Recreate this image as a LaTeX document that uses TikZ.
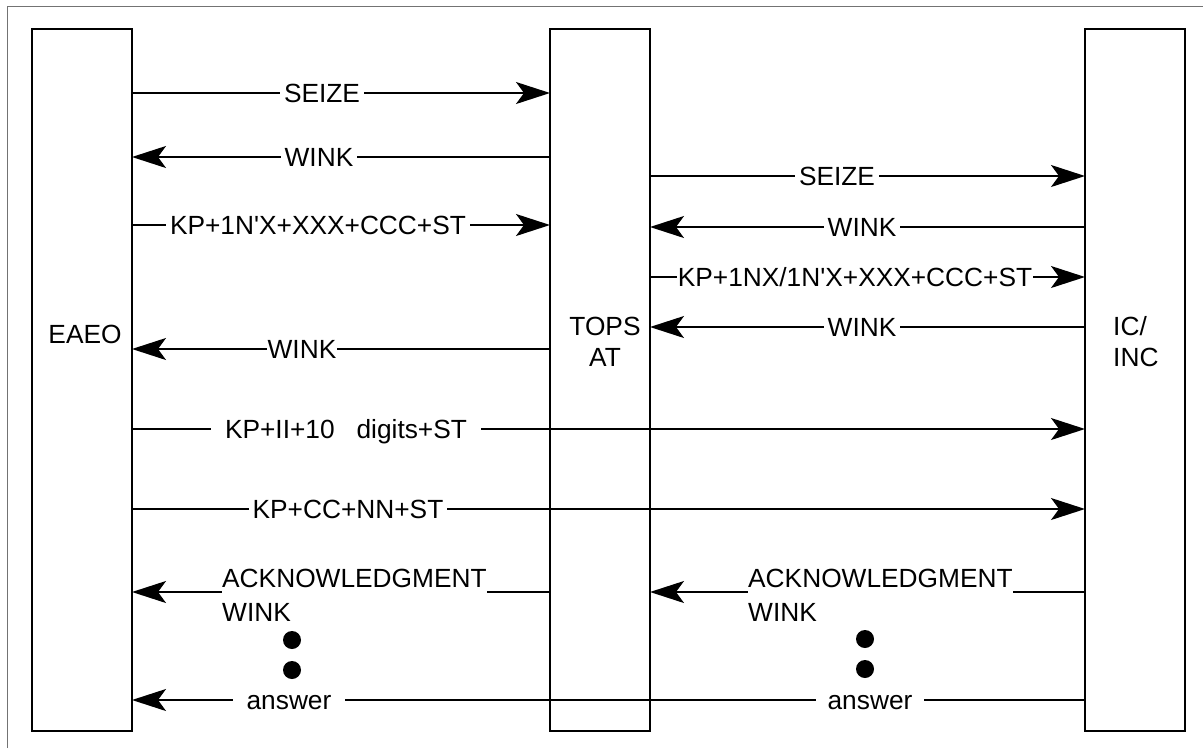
\documentclass[tikz,border=0pt]{standalone}
\usepackage{fontspec}
\setmainfont{Liberation Sans}
\usetikzlibrary{arrows.meta}

\begin{document}
\begin{tikzpicture}[x=1pt, y=-1pt,
  party/.style={draw, line width=2.4pt, minimum width=100pt, minimum height=702pt, outer sep=0pt},
  msg/.style={line width=1.7pt, -{Stealth[length=34pt, width=22pt, inset=8pt]}},
  lbl/.style={fill=white, anchor=base, inner xsep=4pt, inner ysep=2pt, font=\fontsize{26.3}{34}\selectfont},
  ack/.style={fill=white, anchor=north west, inner sep=0pt, align=left, font=\fontsize{26.3}{34}\selectfont},
  pname/.style={inner sep=0pt, font=\fontsize{26.3}{31}\selectfont},
  dot/.style={circle, fill, minimum size=18pt, inner sep=0pt}]
  \useasboundingbox (0,0) rectangle (1203,748);
  \draw[black!55, line width=1pt] (7,748) -- (7,6) -- (1203,6);

  % the three offices
  \node[party] (eaeo) at (82,380) {};
  \node[party] (tops) at (600,380) {};
  \node[party] (icinc) at (1135,380) {};
  \node[pname, anchor=base] (eaeoname) at (85,343) {EAEO};
  \node[pname, align=center] (topsname) at (605,342) {TOPS\\AT};
  \node[pname, align=left, anchor=west] (icincname) at (1113,342) {IC/\\INC};

  % signalling
  \draw[msg] (eaeo.east |- 0,93) -- (tops.west |- 0,93);
  \draw[msg] (tops.west |- 0,157) -- (eaeo.east |- 0,157);
  \draw[msg] (tops.east |- 0,176) -- (icinc.west |- 0,176);
  \draw[msg] (eaeo.east |- 0,225) -- (tops.west |- 0,225);
  \draw[msg] (icinc.west |- 0,227) -- (tops.east |- 0,227);
  \draw[msg] (tops.east |- 0,277) -- (icinc.west |- 0,277);
  \draw[msg] (icinc.west |- 0,327) -- (tops.east |- 0,327);
  \draw[msg] (tops.west |- 0,349) -- (eaeo.east |- 0,349);
  \draw[msg] (eaeo.east |- 0,429) -- (icinc.west |- 0,429);
  \draw[msg] (eaeo.east |- 0,509) -- (icinc.west |- 0,509);
  \draw[msg] (tops.west |- 0,592) -- (eaeo.east |- 0,592);
  \draw[msg] (icinc.west |- 0,592) -- (tops.east |- 0,592);
  \draw[msg] (icinc.west |- 0,700) -- (eaeo.east |- 0,700);

  \node[lbl] (seize1) at (322,102) {SEIZE};
  \node[lbl] (wink1) at (319,166) {WINK};
  \node[lbl] (seize2) at (837,185) {SEIZE};
  \node[lbl] (digits1) at (318,234) {KP+1N\textquotesingle X+XXX+CCC+ST};
  \node[lbl] (wink2) at (862,236) {WINK};
  \node[lbl, inner xsep=1pt] (digits2) at (855,286) {KP+1NX/1N\textquotesingle X+XXX+CCC+ST};
  \node[lbl] (wink3) at (862,336) {WINK};
  \node[lbl, inner xsep=1pt] (wink4) at (302,358) {WINK};
  \node[lbl, inner xsep=14pt] (digits3) at (346,438) {KP+II+10\ \ \ digits+ST};
  \node[lbl] (digits4) at (348,518) {KP+CC+NN+ST};
  \node[ack] (ack1) at (222,569) {ACKNOWLEDGMENT\\WINK};
  \node[ack] (ack2) at (748,569) {ACKNOWLEDGMENT\\WINK};
  \node[lbl, inner xsep=14pt] (answer1) at (289,709) {answer};
  \node[lbl, inner xsep=12pt] (answer2) at (870,709) {answer};

  \node[dot] (dot1) at (292,640) {};
  \node[dot] (dot2) at (292,670) {};
  \node[dot] (dot3) at (865,639) {};
  \node[dot] (dot4) at (865,669) {};
\end{tikzpicture}
\end{document}
